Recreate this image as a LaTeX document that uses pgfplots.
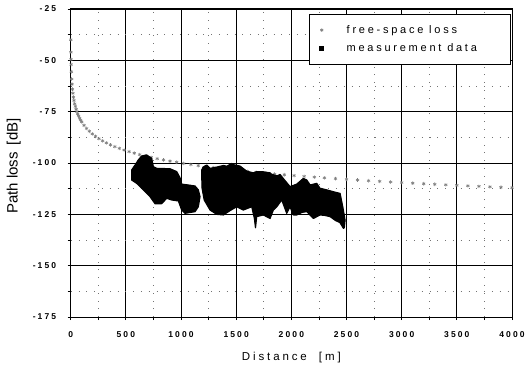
\documentclass[border=0pt]{standalone}
\usepackage{fontspec}
\setmainfont{Liberation Sans}
\newfontfamily\spaced[LetterSpace=25]{Liberation Sans}
\newfontfamily\tickfont[LetterSpace=25]{Liberation Sans}
\usepackage{pgfplots}
\pgfplotsset{compat=1.18}

\begin{document}
\begin{tikzpicture}
\begin{axis}[
  set layers,
  scale only axis, width=441.3pt, height=308pt,
  at={(0,0)}, anchor=south west,
  xmin=0, xmax=4000, ymin=-175, ymax=-25,
  xtick={0,500,...,4000},
  xticklabels={0,500,1000,1500,2000,2500,3000,3500,4000},
  ytick={-175,-150,...,-25},
  yticklabels={-175,-150,-125,-100,-75,-50,-25},
  minor x tick num=1, minor y tick num=1,
  grid=both,
  major grid style={black, line width=0.8pt},
  minor grid style={black!55, line width=0.7pt, dash pattern=on 0.8pt off 7pt},
  axis line style={black, line width=1pt},
  tick align=outside, tick pos=left,
  major tick length=3pt, minor tick length=3pt,
  tick style={black, line width=0.8pt},
  ticklabel style={font=\tickfont\bfseries\fontsize{8.5}{9}\selectfont},
  xticklabel style={yshift=-8pt},
  yticklabel style={xshift=-8pt},
  xlabel={\spaced\fontsize{11.5}{12}\selectfont Distance\ \ [m]},
  ylabel={\fontsize{15}{16}\selectfont Path loss\hspace{3pt} [dB]},
  xlabel style={at={(axis description cs:0.5,-0.1331)}, anchor=center},
  ylabel style={at={(axis description cs:-0.1292,0.49)}, anchor=center},
  legend style={at={(axis description cs:0.998,0.984)}, anchor=north east,
    draw=black, line width=0.8pt, fill=white,
    inner xsep=10pt, inner ysep=9pt, row sep=5pt,
    font=\spaced\fontsize{11}{13}\selectfont},
  legend cell align=left,
]
% free-space loss
\addplot[only marks, mark=asterisk, mark size=1.8pt, color=black!50, mark options={line width=0.6pt}]
coordinates {
(1,-40.00) (2,-46.02) (3,-49.54) (4,-52.04) (6,-55.56) (9,-59.08) (12,-61.58)
(16,-64.08) (20,-66.02) (25,-67.96) (30,-69.54) (36,-71.13) (42,-72.47)
(49,-73.80) (56,-74.96) (64,-76.12) (72,-77.15) (81,-78.17) (90,-79.08)
(100,-80.00) (121,-81.66) (144,-83.17) (169,-84.56) (196,-85.85) (225,-87.04)
(256,-88.16) (289,-89.22) (324,-90.21) (361,-91.15) (400,-92.04) (441,-92.89)
(484,-93.70) (529,-94.47) (576,-95.21) (625,-95.92) (676,-96.60) (729,-97.25)
(784,-97.89) (841,-98.50) (900,-99.08) (961,-99.65) (1024,-100.21) (1089,-100.74)
(1156,-101.26) (1225,-101.76) (1296,-102.25) (1369,-102.73) (1444,-103.19)
(1521,-103.64) (1600,-104.08) (1681,-104.51) (1764,-104.93) (1849,-105.34)
(1936,-105.74) (2025,-106.13) (2116,-106.51) (2209,-106.88) (2300,-107.23)
(2400,-107.60) (2500,-107.96) (2600,-108.30) (2700,-108.63) (2800,-108.94)
(2900,-109.25) (3000,-109.54) (3100,-109.83) (3200,-110.10) (3300,-110.37)
(3400,-110.63) (3500,-110.88) (3600,-111.13) (3700,-111.36) (3800,-111.60)
(3900,-111.82) (4000,-112.04)
};
\addlegendentry{\hspace*{21pt}\makebox[152pt][l]{free-space loss}}
\addlegendimage{only marks, mark=square*, mark size=2pt, black}
\addlegendentry{\hspace*{21pt}\makebox[152pt][l]{measurement data}}
% measurement data, first cluster (drawn above the curve marks)
\addplot[on layer=axis foreground, fill=black, draw=black, line width=1.2pt,
  line join=round, forget plot]
coordinates {
(553,-103.4) (583,-101.0) (613,-98.5) (643,-96.6) (689,-96.1) (734,-97.7)
(749,-101.8) (779,-102.6) (900,-102.8) (961,-104.2) (991,-107.2) (1006,-110.3)
(1066,-110.7) (1127,-111.2) (1157,-113.1) (1172,-116.4) (1157,-121.3)
(1127,-123.7) (1036,-124.5) (1006,-122.9) (976,-118.5) (916,-118.0)
(870,-117.2) (825,-119.8) (764,-119.8) (719,-116.4) (658,-113.1) (598,-109.9)
(553,-108.3)
} -- cycle;
% measurement data, second cluster
\addplot[on layer=axis foreground, fill=black, draw=black, line width=1.2pt,
  line join=round, forget plot]
coordinates {
(1187,-103.5) (1200,-102.0) (1233,-101.0) (1263,-102.6) (1324,-102.0)
(1384,-101.2) (1414,-101.6) (1460,-100.2) (1474,-100.8) (1535,-101.5)
(1596,-104.0) (1655,-104.8) (1686,-104.2) (1746,-104.3) (1807,-104.8)
(1822,-105.5) (1868,-106.3) (1898,-105.6) (1943,-108.6) (1988,-111.5)
(2049,-110.3) (2109,-107.5) (2140,-108.3) (2170,-110.7) (2230,-109.9)
(2260,-112.3) (2321,-113.1) (2381,-114.0) (2442,-114.8) (2466,-121.3)
(2487,-127.8) (2480,-131.5) (2472,-131.8) (2440,-129.0) (2400,-128.0)
(2351,-126.1) (2300,-125.5) (2260,-125.3) (2200,-127.0) (2140,-123.7)
(2100,-124.0) (2049,-125.3) (2018,-125.3) (1988,-121.3) (1958,-124.5)
(1913,-118.0) (1868,-121.3) (1837,-122.9) (1807,-127.0) (1746,-125.3)
(1686,-126.1) (1675,-131.5) (1665,-127.0) (1641,-121.3) (1565,-122.9)
(1505,-121.3) (1444,-123.2) (1384,-125.3) (1324,-125.0) (1263,-122.9)
(1210,-118.0) (1190,-112.0)
} -- cycle;
\end{axis}
\pgfresetboundingbox
\path[use as bounding box] (-70.7pt,-53pt) rectangle (454.3pt,317pt);
\end{tikzpicture}
\end{document}
